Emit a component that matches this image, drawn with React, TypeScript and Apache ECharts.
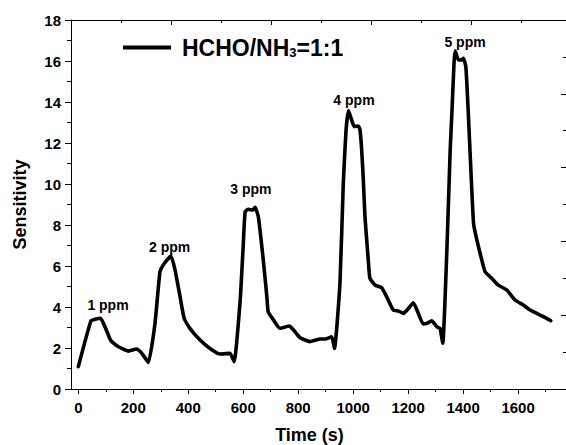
import React, { useEffect, useRef } from "react";
import * as echarts from "echarts";

const timeValues = [
  0, 46, 61, 81, 97, 118, 146, 182, 212, 231, 255, 279, 297, 309, 337, 352, 368, 385, 406, 443, 479, 516, 552, 567,
  589, 600, 607, 619, 635, 643, 655, 673, 686, 691, 710, 734, 768, 783, 807, 843, 880, 898, 922, 932,
  952, 964, 974, 983, 995, 1004, 1019, 1025, 1031, 1037, 1043, 1055, 1061, 1080, 1104, 1122, 1146, 1165, 1183,
  1201, 1219, 1231, 1255, 1268, 1286, 1304, 1316, 1326, 1341, 1353, 1359, 1367, 1371, 1383, 1395, 1401, 1410,
  1419, 1425, 1438, 1450, 1468, 1480, 1504, 1528, 1559, 1589, 1619, 1644, 1668, 1692, 1719,
];
const sensitivityValues = [
  1.09, 3.33, 3.4, 3.45, 3.04, 2.36, 2.06, 1.85, 1.95, 1.74, 1.3, 3.2, 5.72, 6.05, 6.49, 5.8, 4.67, 3.45, 2.96, 2.39, 1.98, 1.71, 1.74, 1.33,
  4.34, 7.0, 8.65, 8.77, 8.73, 8.86, 8.4, 6.29, 4.5, 3.77, 3.37, 2.96, 3.07, 2.88, 2.5, 2.31, 2.44, 2.44, 2.55, 1.98,
  5.16, 10.0, 12.6, 13.58, 13.1, 12.8, 12.83, 12.63, 11.66, 10.2, 8.4, 6.29, 5.4, 5.07, 4.94, 4.5, 3.85, 3.8, 3.69,
  3.93, 4.21, 3.89, 3.17, 3.2, 3.33, 3.04, 2.96, 2.23, 6.78, 11.66, 13.4, 15.9, 16.5, 16.05, 16.05, 16.13, 15.72,
  13.45, 11.66, 8.08, 7.27, 6.29, 5.72, 5.4, 5.07, 4.83, 4.34, 4.1, 3.85, 3.69, 3.53, 3.33,
];

const annotationNames = ["1 ppm", "2 ppm", "3 ppm", "4 ppm", "5 ppm"];
const annotationX = [108, 332, 628, 1003, 1407];
const annotationY = [4.1, 6.95, 9.75, 14.1, 16.95];

const xMin = -26.6;
const xMax = 1774.4;

const seriesName = "HCHO/NH3=1:1";
const FONT = "Liberation Sans, Arial, sans-serif";

export default function App() {
  const ref = useRef<HTMLDivElement>(null);
  useEffect(() => {
    if (!ref.current) return;
    const chart = echarts.init(ref.current, null, { renderer: "svg" });
    const axisColor = "#000";
    const lineData = timeValues.map((t, i) => [t, sensitivityValues[i]]);
    const labelData = annotationNames.map((n, i) => ({ name: n, value: [annotationX[i], annotationY[i]] }));
    chart.setOption({
      animation: false,
      backgroundColor: "#fff",
      grid: [
        { left: 71, top: 20, width: 495, height: 369, outerBoundsMode: "none" },
        { left: 78.3, top: 20, width: 487.7, height: 369, outerBoundsMode: "none" },
      ],
      legend: {
        data: [seriesName],
        left: 123,
        top: 36,
        padding: 0,
        icon: "rect",
        itemWidth: 48,
        itemHeight: 4,
        formatter: () => "{a|HCHO/NH}{b|3}{a|=1:1}",
        textStyle: {
          padding: [0, 0, 0, 6],
          rich: {
            a: { fontSize: 23, fontWeight: "bold", fontFamily: FONT, color: "#000" },
            b: { fontSize: 13, fontWeight: "bold", fontFamily: FONT, color: "#000", padding: [9, 0, 0, 0] },
          },
        },
      },
      xAxis: [
        {
          type: "value",
          gridIndex: 0,
          position: "bottom",
          min: xMin,
          max: xMax,
          name: "Time (s)",
          nameLocation: "middle",
          nameGap: 37,
          nameTextStyle: {
            fontSize: 18,
            fontWeight: "bold",
            fontFamily: FONT,
            color: "#000",
            padding: [0, 18, 0, 0],
          },
          axisLine: { show: true, onZero: false, lineStyle: { color: axisColor, width: 1 } },
          axisTick: { show: false },
          axisLabel: { show: false },
          splitLine: { show: false },
        },
        {
          type: "value",
          gridIndex: 1,
          position: "bottom",
          min: 0,
          max: xMax,
          interval: 200,
          axisLine: { show: false, onZero: false },
          axisTick: { show: true, length: 5, lineStyle: { color: axisColor } },
          minorTick: { show: true, splitNumber: 2, length: 3, lineStyle: { color: axisColor } },
          axisLabel: {
            formatter: (v: number) => String(v),
            fontSize: 15,
            fontWeight: "bold",
            fontFamily: FONT,
            color: "#000",
            margin: 11,
            showMaxLabel: false,
          },
          splitLine: { show: false },
        },
        {
          type: "value",
          gridIndex: 0,
          position: "top",
          min: 0,
          max: 4.95,
          interval: 1,
          axisLine: { show: true, onZero: false, lineStyle: { color: axisColor, width: 1 } },
          axisTick: { show: true, inside: true, length: 5, lineStyle: { color: axisColor } },
          minorTick: { show: true, splitNumber: 2, length: 3, lineStyle: { color: axisColor } },
          axisLabel: { show: false },
          splitLine: { show: false },
        },
      ],
      yAxis: [
        {
          type: "value",
          gridIndex: 0,
          position: "left",
          min: 0,
          max: 18,
          interval: 2,
          name: "Sensitivity",
          nameLocation: "middle",
          nameGap: 42,
          nameTextStyle: { fontSize: 18, fontWeight: "bold", fontFamily: FONT, color: "#000" },
          axisLine: { show: true, onZero: false, lineStyle: { color: axisColor, width: 1 } },
          axisTick: { show: true, length: 6, lineStyle: { color: axisColor } },
          minorTick: { show: true, splitNumber: 2, length: 4, lineStyle: { color: axisColor } },
          axisLabel: { fontSize: 15, fontWeight: "bold", fontFamily: FONT, color: "#000", margin: 10 },
          splitLine: { show: false },
        },
        {
          type: "value",
          gridIndex: 0,
          position: "right",
          min: 0,
          max: 5,
          interval: 1,
          axisLine: { show: true, onZero: false, lineStyle: { color: "rgba(0,0,0,0)", width: 1 } },
          axisTick: { show: true, inside: true, length: 5, lineStyle: { color: axisColor } },
          minorTick: { show: true, splitNumber: 2, length: 3, lineStyle: { color: axisColor } },
          axisLabel: { show: false },
          splitLine: { show: false },
        },
        {
          type: "value",
          gridIndex: 1,
          min: 0,
          max: 18,
          show: false,
        },
      ],
      series: [
        {
          name: seriesName,
          type: "line",
          xAxisIndex: 0,
          yAxisIndex: 0,
          data: lineData,
          showSymbol: false,
          symbol: "none",
          smooth: 0.15,
          lineStyle: { color: "#000", width: 3.6, join: "round", cap: "round" },
          itemStyle: { color: "#000" },
        },
        {
          name: "labels",
          type: "scatter",
          xAxisIndex: 0,
          yAxisIndex: 0,
          data: labelData,
          symbolSize: 0,
          itemStyle: { color: "#000", opacity: 1 },
          label: {
            show: true,
            position: "inside",
            formatter: (p: any) => p.name,
            fontSize: 14,
            fontWeight: "bold",
            fontFamily: FONT,
            color: "#000",
            opacity: 1,
          },
          emphasis: { disabled: true },
        },
      ],
    });
    return () => chart.dispose();
  }, []);
  return <div ref={ref} style={{ position: "fixed", left: 0, top: 0, width: 566, height: 445 }} />;
}
